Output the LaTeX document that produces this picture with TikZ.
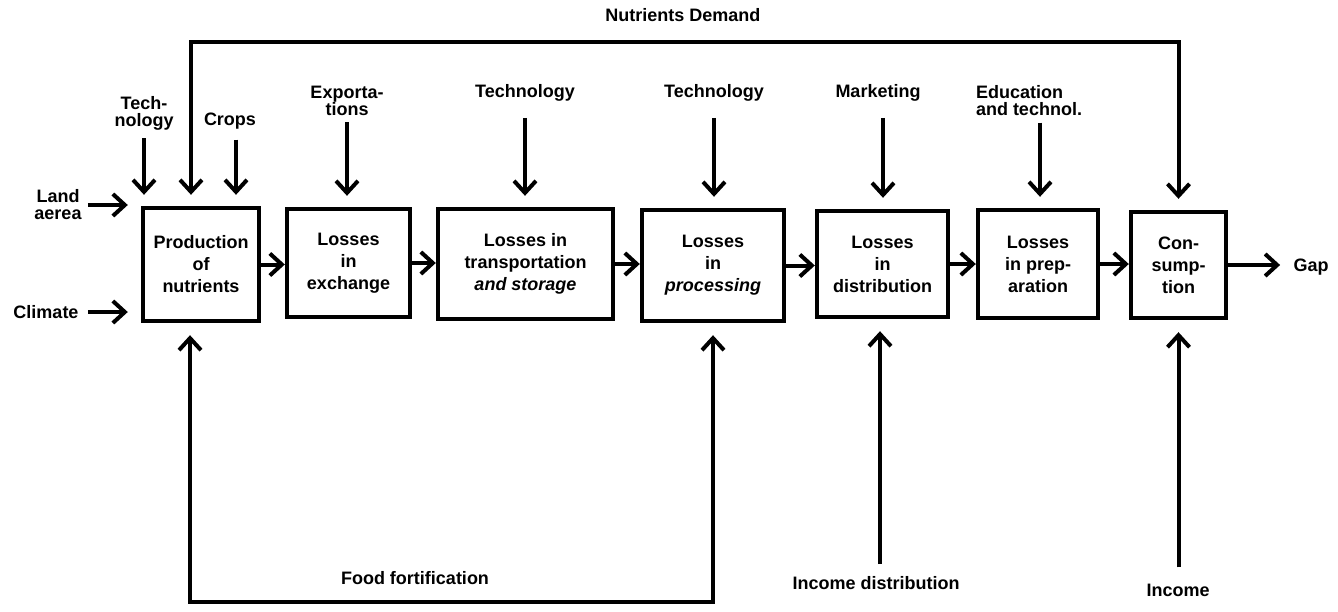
\documentclass[tikz,border=0pt]{standalone}
\usepackage{fontspec}
\setmainfont{Liberation Sans}
\usetikzlibrary{arrows.meta}
\begin{document}
\begin{tikzpicture}[x=0.5pt,y=-0.5pt,
  every node/.style={inner sep=0pt, align=center},
  boxtext/.style={font=\bfseries\fontsize{9}{11}\selectfont},
  lbl/.style={font=\bfseries\fontsize{9}{8.5}\selectfont},
  stage/.style 2 args={boxtext, draw, line width=2.2pt, minimum width=#1, minimum height=#2},
  tip/.style={Straight Barb[length=6pt,width=11pt]},
  arr/.style={line width=2pt, -{Straight Barb[length=6pt,width=11pt]}},
  darr/.style={line width=2pt, {Straight Barb[length=6pt,width=11pt]}-{Straight Barb[length=6pt,width=11pt]}},
  line join=miter]
\useasboundingbox (0,0) rectangle (1338,611);

% chain of stages
\node[stage={58pt}{56.5pt}]   (b1) at (201,264.5) {Production\\of\\nutrients};
\node[stage={61.5pt}{54pt}]   (b2) at (348.5,263) {Losses\\in\\exchange};
\node[stage={87.5pt}{55pt}]   (b3) at (525.5,264) {Losses in\\transportation\\\itshape and storage};
\node[stage={71pt}{55.5pt}]   (b4) at (713,265.5) {Losses\\in\\\itshape processing};
\node[stage={65.5pt}{53pt}]   (b5) at (882.5,264) {Losses\\in\\distribution};
\node[stage={60pt}{54pt}]     (b6) at (1038,264) {Losses\\in prep-\\aration};
\node[stage={47.5pt}{53pt}]   (b7) at (1178.5,265) {Con-\\sump-\\tion};

\foreach \a/\b in {b1/b2,b2/b3,b3/b4,b4/b5,b5/b6,b6/b7}
  \draw[arr] (\a.east) -- (\a.east -| \b.west);

\node[lbl] (gap) at (1311,267) {Gap};
\draw[arr, shorten >=6.5pt] (b7.east) -- (b7.east -| gap.west);

% inputs from the left
\node[lbl] (land) at (58,205) {Land\\aerea};
\node[lbl] (clim) at (46,312) {Climate};
\draw[arr, shorten <=3pt, shorten >=6.5pt] (land.east) -- (land.east -| b1.west);
\draw[arr, shorten <=4.5pt, shorten >=6.5pt] (clim.east) -- (clim.east -| b1.west);

% inputs from above
\node[lbl] (tech)  at (144,113) {Tech-\\nology};
\node[lbl] (crops) at (230,121) {Crops};
\node[lbl] (expo)  at (347,101) {Exporta-\\tions};
\node[lbl] (tec2)  at (525,93)  {Technology};
\node[lbl] (tec3)  at (714,93)  {Technology};
\node[lbl] (mkt)   at (878,93)  {Marketing};
\node[lbl, align=left] (edu) at (1029,101) {Education\\and technol.};

\draw[arr, shorten <=4pt, shorten >=5.5pt] (tech.south) -- (b1.north -| tech.south);
\draw[arr, shorten <=5pt, shorten >=5.5pt] (crops.south -| 236,0) -- (b1.north -| 236,0);
\draw[arr, shorten <=3pt, shorten >=5.5pt] (expo.south) -- (b2.north -| expo.south);
\draw[arr, shorten <=8pt, shorten >=5.5pt] (tec2.south) -- (b3.north -| tec2.south);
\draw[arr, shorten <=8pt, shorten >=5.5pt] (tec3.south) -- (b4.north -| tec3.south);
\draw[arr, shorten <=8pt, shorten >=5.5pt] (mkt.south -| 883,0) -- (b5.north -| 883,0);
\draw[arr, shorten <=3pt, shorten >=5.5pt] (edu.south -| 1040,0) -- (b6.north -| 1040,0);

% nutrients demand loop over the top
\node[lbl] (nd) at (683,15) {Nutrients Demand};
\coordinate (ndL) at (191,42);
\coordinate (ndR) at (1178.5,42);
\draw[darr, shorten <=5.5pt, shorten >=5.5pt] (b1.north -| ndL) -- (ndL) -- (ndR) -- (b7.north);

% food fortification loop underneath
\coordinate (ffL) at (190,602);
\coordinate (ffR) at (713,602);
\node[lbl] (ff) at (415,578) {Food fortification};
\draw[darr, shorten <=6pt, shorten >=6pt] (b1.south -| ffL) -- (ffL) -- (ffR) -- (b4.south);

% inputs from below
\node[lbl] (incd) at (876,583) {Income distribution};
\node[lbl] (inc)  at (1178,590) {Income};
\draw[arr, shorten <=6pt, shorten >=6pt] (incd.north -| 880,0) -- (b5.south -| 880,0);
\draw[arr, shorten <=8pt, shorten >=6pt] (inc.north -| b7.south) -- (b7.south);
\end{tikzpicture}
\end{document}
